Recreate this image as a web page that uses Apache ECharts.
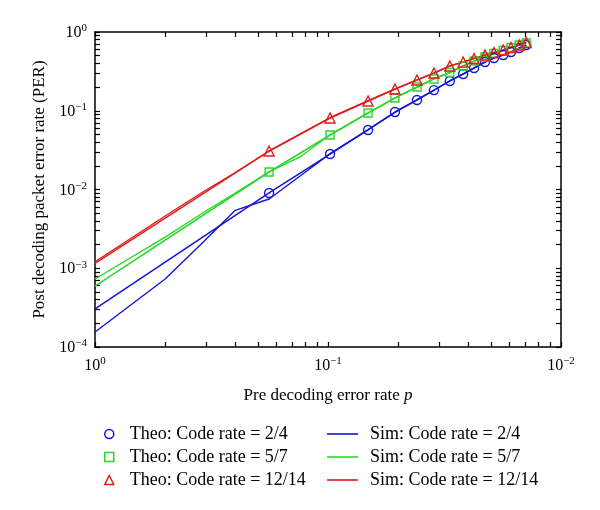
<!DOCTYPE html>
<html><head><meta charset="utf-8">
<script src="https://cdn.jsdelivr.net/npm/echarts@6/dist/echarts.min.js"></script>
<style>html,body{margin:0;padding:0;background:#fff}#c{width:600px;height:510px}</style>
</head><body><div id="c"></div>
<script>
// Tick values (pre decoding error rate p, inverted log axis)
const xTicks = [1, 0.5, 0.3333, 0.25, 0.2, 0.1667, 0.1429, 0.125, 0.1111, 0.1,
                0.05, 0.03333, 0.025, 0.02, 0.01667, 0.01429, 0.0125, 0.01111, 0.01];
const xLabels = [1, 0.1, 0.01];
const yTicks = [1e-4, 2e-4, 3e-4, 4e-4, 5e-4, 6e-4, 7e-4, 8e-4, 9e-4,
                1e-3, 2e-3, 3e-3, 4e-3, 5e-3, 6e-3, 7e-3, 8e-3, 9e-3,
                1e-2, 2e-2, 3e-2, 4e-2, 5e-2, 6e-2, 7e-2, 8e-2, 9e-2,
                0.1, 0.2, 0.3, 0.4, 0.5, 0.6, 0.7, 0.8, 0.9, 1];
const yLabels = [1e-4, 1e-3, 1e-2, 1e-1, 1];

// Theoretical curves (first point has no marker)
const pTheo = [1, 0.179, 0.098, 0.0673, 0.0516, 0.0415, 0.0351, 0.0300, 0.0263,
               0.0236, 0.0212, 0.0194, 0.0177, 0.0164, 0.0151, 0.0141];
const theoBlue  = [3.04e-4, 0.00903, 0.0282, 0.0570, 0.0964, 0.137, 0.183, 0.239, 0.293,
                   0.349, 0.416, 0.468, 0.511, 0.557, 0.626, 0.684];
const theoGreen = [5.95e-4, 0.01668, 0.0492, 0.0936, 0.145, 0.200, 0.253, 0.306, 0.370,
                   0.428, 0.481, 0.533, 0.582, 0.636, 0.684, 0.725];
const theoRed   = [1.15e-3, 0.0308, 0.0809, 0.133, 0.189, 0.246, 0.302, 0.370, 0.416,
                   0.461, 0.511, 0.549, 0.591, 0.636, 0.684, 0.736];

// Simulated curves
const pSim = [1, 0.5, 0.35, 0.25, 0.179, 0.13, 0.098, 0.0673, 0.0516, 0.0415, 0.0351,
              0.0300, 0.0263, 0.0236, 0.0212, 0.0194, 0.0177, 0.0164, 0.0151, 0.0141];
const simBlue  = [1.55e-4, 7.3e-4, 2.03e-3, 5.44e-3, 7.57e-3, 0.0153, 0.0285, 0.0575, 0.0955,
                  0.138, 0.182, 0.240, 0.291, 0.351, 0.414, 0.470, 0.509, 0.560, 0.622, 0.680];
const simGreen = [7.3e-4, 2.49e-3, 4.89e-3, 9.03e-3, 0.0167, 0.0266, 0.0495, 0.094, 0.146,
                  0.198, 0.255, 0.305, 0.372, 0.426, 0.483, 0.531, 0.585, 0.634, 0.686, 0.722];
const simRed   = [1.21e-3, 4.61e-3, 9.03e-3, 0.01644, 0.0308, 0.0516, 0.0815, 0.134, 0.188,
                  0.247, 0.300, 0.372, 0.414, 0.463, 0.509, 0.551, 0.589, 0.638, 0.682, 0.738];

const names = ['Theo: Code rate = 2/4', 'Theo: Code rate = 5/7', 'Theo: Code rate = 12/14',
               'Sim: Code rate = 2/4', 'Sim: Code rate = 5/7', 'Sim: Code rate = 12/14'];

const BLUE = '#1414d8', GREEN = '#2ad82a', RED = '#e01c1c';
const FONT = 'Liberation Serif';

function fmt(v) {
  const e = Math.round(Math.log10(v));
  return '{b|10}{s|' + (e === 0 ? '0' : '\u2212' + (-e)) + '}';
}
const labelRich = {
  b: {fontSize: 16, fontFamily: FONT, color: '#000', lineHeight: 18, verticalAlign: 'bottom'},
  s: {fontSize: 11, fontFamily: FONT, color: '#000', lineHeight: 11, verticalAlign: 'top'}
};

function theoSeries(name, vals, color, symbol, size) {
  return {
    name, type: 'line', animation: false, z: 3,
    data: pTheo.map((p, i) => i === 0 ? {value: [p, vals[i]], symbol: 'none'} : [p, vals[i]]),
    symbol, symbolSize: size, showSymbol: true, showAllSymbol: true,
    lineStyle: {color, width: 1.5},
    itemStyle: {color: 'transparent', borderColor: color, borderWidth: 1.4},
    emphasis: {disabled: true}
  };
}
function simSeries(name, vals, color) {
  return {
    name, type: 'line', animation: false, z: 2,
    data: pSim.map((p, i) => [p, vals[i]]),
    symbol: 'none', showSymbol: false,
    lineStyle: {color, width: 1.4},
    itemStyle: {color},
    emphasis: {disabled: true}
  };
}

function xAxisDef(pos, showLabel) {
  return {
    type: 'log', logBase: 10, inverse: true, min: 0.01, max: 1, position: pos,
    axisLine: {show: true, onZero: false, lineStyle: {color: '#000', width: 1.5}},
    axisTick: {show: true, inside: true, length: 5, customValues: xTicks, lineStyle: {color: '#000', width: 1.2}},
    minorTick: {show: false},
    splitLine: {show: false},
    axisLabel: showLabel ? {show: true, customValues: xLabels, formatter: fmt, rich: labelRich, margin: 9} : {show: false},
    name: showLabel ? 'Pre decoding error rate {i|p}' : '',
    nameLocation: 'middle', nameGap: 40,
    nameTextStyle: {fontFamily: FONT, fontSize: 17, color: '#000',
      rich: {i: {fontFamily: FONT, fontSize: 17, fontStyle: 'italic', color: '#000'}}}
  };
}
function yAxisDef(pos, showLabel) {
  return {
    type: 'log', logBase: 10, min: 1e-4, max: 1, position: pos,
    axisLine: {show: true, onZero: false, lineStyle: {color: '#000', width: 1.5}},
    axisTick: {show: true, inside: true, length: 5, customValues: yTicks, lineStyle: {color: '#000', width: 1.2}},
    minorTick: {show: false},
    splitLine: {show: false},
    axisLabel: showLabel ? {show: true, customValues: yLabels, formatter: fmt, rich: labelRich, margin: 8} : {show: false},
    name: showLabel ? 'Post decoding packet error rate (PER)' : '',
    nameLocation: 'middle', nameGap: 44, nameRotate: 90,
    nameTextStyle: {fontFamily: FONT, fontSize: 17, color: '#000'}
  };
}

const chart = echarts.init(document.getElementById('c'), null, {renderer: 'canvas'});
chart.setOption({
  animation: false,
  backgroundColor: '#fff',
  grid: {left: 95, right: 39, top: 32, bottom: 163, containLabel: false},
  xAxis: [xAxisDef('bottom', true), xAxisDef('top', false)],
  yAxis: [yAxisDef('left', true), yAxisDef('right', false)],
  legend: [
    {
      orient: 'vertical', left: 99, top: 420, itemGap: 5, itemWidth: 9, itemHeight: 9,
      textStyle: {fontFamily: FONT, fontSize: 18, color: '#000', lineHeight: 18, padding: [0, 0, 0, 11]},
      selectedMode: false,
      data: [
        {name: names[0], icon: 'circle', itemStyle: {color: '#fff', borderColor: BLUE, borderWidth: 1.5}},
        {name: names[1], icon: 'rect', itemStyle: {color: '#fff', borderColor: GREEN, borderWidth: 1.5}},
        {name: names[2], icon: 'triangle', itemStyle: {color: '#fff', borderColor: RED, borderWidth: 1.5}}
      ]
    },
    {
      orient: 'vertical', left: 322, top: 420, itemGap: 5, itemWidth: 31, itemHeight: 1.6,
      textStyle: {fontFamily: FONT, fontSize: 18, color: '#000', lineHeight: 18, padding: [0, 0, 0, 7]},
      selectedMode: false,
      data: [
        {name: names[3], icon: 'rect', itemStyle: {color: BLUE, borderWidth: 0}},
        {name: names[4], icon: 'rect', itemStyle: {color: GREEN, borderWidth: 0}},
        {name: names[5], icon: 'rect', itemStyle: {color: RED, borderWidth: 0}}
      ]
    }
  ],
  series: [
    simSeries(names[3], simBlue, BLUE),
    simSeries(names[4], simGreen, GREEN),
    simSeries(names[5], simRed, RED),
    theoSeries(names[0], theoBlue, BLUE, 'circle', 9),
    theoSeries(names[1], theoGreen, GREEN, 'rect', 8),
    theoSeries(names[2], theoRed, RED, 'triangle', 10)
  ]
});
</script>
</body></html>
